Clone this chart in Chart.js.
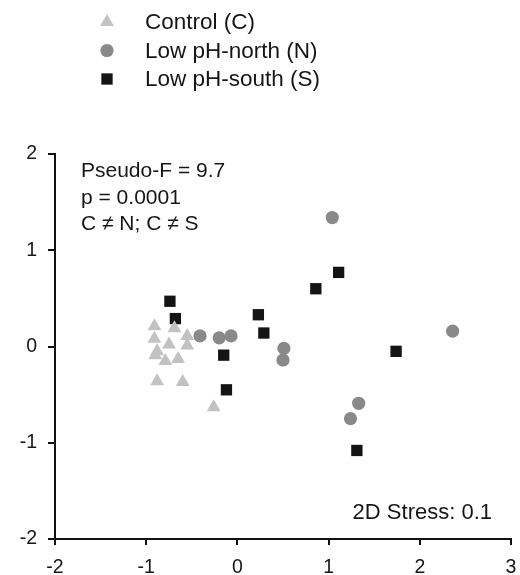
<!DOCTYPE html>
<html lang="en">
<head>
    <meta charset="UTF-8">
    <title>nMDS ordination</title>
    <script src="https://cdn.jsdelivr.net/npm/chart.js"></script>
    <style>
        body { margin: 0; background: #fff; }
        .chart-container { width: 520px; height: 575px; position: relative; }
    </style>
</head>
<body>
    <div class="chart-container">
        <canvas id="myChart"></canvas>
    </div>

    <script>
        // Series labels
        const seriesNames = ['Control (C)', 'Low pH-north (N)', 'Low pH-south (S)'];

        // Control (C)
        const controlX = [-0.91, -0.69, -0.91, -0.55, -0.55, -0.75, -0.88, -0.90, -0.79, -0.65, -0.88, -0.60, -0.26];
        const controlY = [0.21, 0.19, 0.08, 0.11, 0.01, 0.02, -0.05, -0.09, -0.15, -0.13, -0.36, -0.37, -0.63];

        // Low pH-north (N)
        const northX = [-0.41, -0.20, -0.07, 0.51, 0.50, 1.04, 2.36, 1.33, 1.24];
        const northY = [0.11, 0.09, 0.11, -0.02, -0.14, 1.34, 0.16, -0.59, -0.75];

        // Low pH-south (S)
        const southX = [-0.74, -0.68, 0.23, 0.29, -0.15, -0.12, 1.11, 0.86, 1.74, 1.31];
        const southY = [0.47, 0.29, 0.33, 0.14, -0.09, -0.45, 0.77, 0.60, -0.05, -1.08];

        // Axis ticks
        const xTicks = [-2, -1, 0, 1, 2, 3];
        const yTicks = [-2, -1, 0, 1, 2];

        // Annotation text
        const statLines = ['Pseudo-F = 9.7', 'p = 0.0001', 'C \u2260 N; C \u2260 S'];
        const stressText = '2D Stress: 0.1';

        const FONT = "'Liberation Sans', Arial, sans-serif";
        const TEXT = '#161616';

        function toPoints(xs, ys) {
            return xs.map((x, i) => ({ x: x, y: ys[i] }));
        }

        const styles = [
            { color: '#c2c2c2', pointStyle: 'triangle', radius: 8 },
            { color: '#898989', pointStyle: 'circle', radius: 6.6 },
            { color: '#141414', pointStyle: 'rect', radius: 8 }
        ];
        const series = [
            toPoints(controlX, controlY),
            toPoints(northX, northY),
            toPoints(southX, southY)
        ];

        const datasets = series.map((pts, i) => ({
            label: seriesNames[i],
            data: pts,
            pointStyle: styles[i].pointStyle,
            pointRadius: styles[i].radius,
            pointHoverRadius: styles[i].radius,
            backgroundColor: styles[i].color,
            borderColor: styles[i].color,
            borderWidth: 0
        }));

        function drawMarker(ctx, style, x, y) {
            const r = style.radius;
            ctx.fillStyle = style.color;
            ctx.beginPath();
            if (style.pointStyle === 'circle') {
                ctx.arc(x, y, r, 0, Math.PI * 2);
            } else if (style.pointStyle === 'rect') {
                const s = Math.SQRT1_2 * r;
                ctx.rect(x - s, y - s, 2 * s, 2 * s);
            } else {
                ctx.moveTo(x, y - r);
                ctx.lineTo(x + r * Math.sqrt(3) / 2, y + r / 2);
                ctx.lineTo(x - r * Math.sqrt(3) / 2, y + r / 2);
                ctx.closePath();
            }
            ctx.fill();
        }

        const ctx = document.getElementById('myChart').getContext('2d');

        new Chart(ctx, {
            type: 'scatter',
            data: { datasets: datasets },
            options: {
                responsive: true,
                maintainAspectRatio: false,
                animation: false,
                layout: { padding: { top: 154, right: 9, left: 0, bottom: 0 } },
                scales: {
                    x: {
                        type: 'linear',
                        min: -2,
                        max: 3,
                        afterFit: (scale) => {
                            scale.height = 36;
                            // tick padding would otherwise eat into the right edge
                            scale.paddingRight = 0;
                            scale.paddingLeft = 0;
                        },
                        afterBuildTicks: (scale) => { scale.ticks = xTicks.map(v => ({ value: v })); },
                        border: { display: true, color: '#111', width: 2 },
                        grid: { drawOnChartArea: false, tickLength: 6, color: '#111', lineWidth: 2 },
                        ticks: {
                            color: TEXT,
                            padding: 11,
                            font: { family: FONT, size: 19.5 },
                            maxRotation: 0
                        }
                    },
                    y: {
                        type: 'linear',
                        min: -2,
                        max: 2,
                        afterFit: (scale) => { scale.width = 55; },
                        afterBuildTicks: (scale) => { scale.ticks = yTicks.map(v => ({ value: v })); },
                        border: { display: true, color: '#111', width: 2 },
                        grid: { drawOnChartArea: false, tickLength: 7, color: '#111', lineWidth: 2 },
                        ticks: {
                            color: TEXT,
                            padding: 11,
                            font: { family: FONT, size: 19.5 }
                        }
                    }
                },
                plugins: {
                    legend: { display: false },
                    tooltip: { enabled: false }
                }
            },
            plugins: [{
                id: 'annotations',
                afterDraw: (chart) => {
                    const c = chart.ctx;
                    const area = chart.chartArea;
                    c.save();

                    // legend block above the plot
                    c.font = '22.5px ' + FONT;
                    c.textBaseline = 'middle';
                    c.textAlign = 'left';
                    seriesNames.forEach((name, i) => {
                        const y = 22 + i * 28.5;
                        drawMarker(c, styles[i], 107, y);
                        c.fillStyle = TEXT;
                        c.fillText(name, 145, y + 1);
                    });

                    // statistics in the top-left corner of the plot
                    c.font = '21px ' + FONT;
                    c.textBaseline = 'alphabetic';
                    c.fillStyle = TEXT;
                    statLines.forEach((line, i) => {
                        c.fillText(line, area.left + 26, area.top + 23 + i * 26.5);
                    });

                    // stress value bottom-right
                    c.font = '22px ' + FONT;
                    c.textAlign = 'right';
                    c.fillText(stressText, area.right - 19, area.bottom - 20);

                    c.restore();
                }
            }]
        });
    </script>
</body>
</html>
